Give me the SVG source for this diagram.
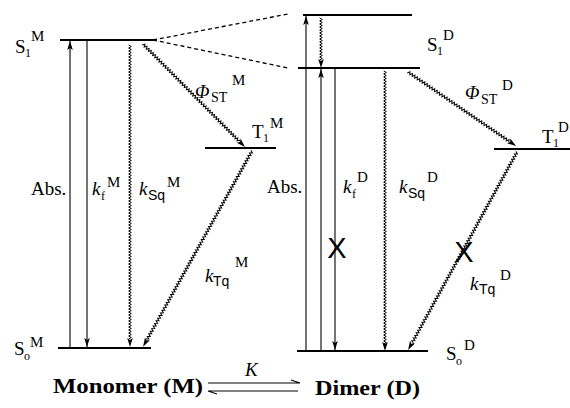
<svg xmlns="http://www.w3.org/2000/svg" xmlns:xlink="http://www.w3.org/1999/xlink" width="570" height="408" viewBox="0 0 570 408">
<style>
.lvl{stroke:#000;stroke-width:2;fill:none}
.ln{stroke:#000;stroke-width:1.1;fill:none}
.dash{stroke:#000;stroke-width:1.3;stroke-dasharray:4 3;fill:none}
.t{font-family:"Liberation Serif",serif;font-size:19px;fill:#000}
.i{font-style:italic}
.sup{font-size:15px}
.sub{font-size:12px}
.sst{font-size:14px}
.ss{font-family:"Liberation Sans",sans-serif;font-size:14px}
.x{font-family:"Liberation Sans",sans-serif;font-size:29px;fill:#000}
.b{font-family:"Liberation Serif",serif;font-weight:bold;font-size:20px;fill:#000}
</style>
<defs>
<path id="wz" fill="none" stroke="#000" stroke-width="1" d="M-1.3,0 l2.6,1.5 -2.6,1.5 2.6,1.5 -2.6,1.5 2.6,1.5 -2.6,1.5 2.6,1.5 -2.6,1.5 2.6,1.5 -2.6,1.5 2.6,1.5 -2.6,1.5 2.6,1.5 -2.6,1.5 2.6,1.5 -2.6,1.5 2.6,1.5 -2.6,1.5 2.6,1.5 -2.6,1.5 2.6,1.5 -2.6,1.5 2.6,1.5 -2.6,1.5 2.6,1.5 -2.6,1.5 2.6,1.5 -2.6,1.5 2.6,1.5 -2.6,1.5 2.6,1.5 -2.6,1.5 2.6,1.5 -2.6,1.5 2.6,1.5 -2.6,1.5 2.6,1.5 -2.6,1.5 2.6,1.5 -2.6,1.5 2.6,1.5 -2.6,1.5 2.6,1.5 -2.6,1.5 2.6,1.5 -2.6,1.5 2.6,1.5 -2.6,1.5 2.6,1.5 -2.6,1.5 2.6,1.5 -2.6,1.5 2.6,1.5 -2.6,1.5 2.6,1.5 -2.6,1.5 2.6,1.5 -2.6,1.5 2.6,1.5 -2.6,1.5 2.6,1.5 -2.6,1.5 2.6,1.5 -2.6,1.5 2.6,1.5 -2.6,1.5 2.6,1.5 -2.6,1.5 2.6,1.5 -2.6,1.5 2.6,1.5 -2.6,1.5 2.6,1.5 -2.6,1.5 2.6,1.5 -2.6,1.5 2.6,1.5 -2.6,1.5 2.6,1.5 -2.6,1.5 2.6,1.5 -2.6,1.5 2.6,1.5 -2.6,1.5 2.6,1.5 -2.6,1.5 2.6,1.5 -2.6,1.5 2.6,1.5 -2.6,1.5 2.6,1.5 -2.6,1.5 2.6,1.5 -2.6,1.5 2.6,1.5 -2.6,1.5 2.6,1.5 -2.6,1.5 2.6,1.5 -2.6,1.5 2.6,1.5 -2.6,1.5 2.6,1.5 -2.6,1.5 2.6,1.5 -2.6,1.5 2.6,1.5 -2.6,1.5 2.6,1.5 -2.6,1.5 2.6,1.5 -2.6,1.5 2.6,1.5 -2.6,1.5 2.6,1.5 -2.6,1.5 2.6,1.5 -2.6,1.5 2.6,1.5 -2.6,1.5 2.6,1.5 -2.6,1.5 2.6,1.5 -2.6,1.5 2.6,1.5 -2.6,1.5 2.6,1.5 -2.6,1.5 2.6,1.5 -2.6,1.5 2.6,1.5 -2.6,1.5 2.6,1.5 -2.6,1.5 2.6,1.5 -2.6,1.5 2.6,1.5 -2.6,1.5 2.6,1.5 -2.6,1.5 2.6,1.5 -2.6,1.5 2.6,1.5 -2.6,1.5 2.6,1.5 -2.6,1.5 2.6,1.5 -2.6,1.5 2.6,1.5 -2.6,1.5 2.6,1.5 -2.6,1.5 2.6,1.5 -2.6,1.5 2.6,1.5 -2.6,1.5 2.6,1.5 -2.6,1.5 2.6,1.5 -2.6,1.5 2.6,1.5 -2.6,1.5 2.6,1.5 -2.6,1.5 2.6,1.5 -2.6,1.5 2.6,1.5 -2.6,1.5 2.6,1.5 -2.6,1.5 2.6,1.5 -2.6,1.5 2.6,1.5 -2.6,1.5 2.6,1.5 -2.6,1.5 2.6,1.5 -2.6,1.5 2.6,1.5 -2.6,1.5 2.6,1.5 -2.6,1.5 2.6,1.5 -2.6,1.5 2.6,1.5 -2.6,1.5 2.6,1.5 -2.6,1.5 2.6,1.5 -2.6,1.5 2.6,1.5 -2.6,1.5 2.6,1.5 -2.6,1.5 2.6,1.5 -2.6,1.5 2.6,1.5 -2.6,1.5 2.6,1.5 -2.6,1.5 2.6,1.5 -2.6,1.5 2.6,1.5 -2.6,1.5 2.6,1.5 -2.6,1.5 2.6,1.5 -2.6,1.5 2.6,1.5 -2.6,1.5 2.6,1.5 -2.6,1.5 2.6,1.5 -2.6,1.5 2.6,1.5 -2.6,1.5 2.6,1.5 -2.6,1.5 2.6,1.5 -2.6,1.5 2.6,1.5 -2.6,1.5 2.6,1.5 -2.6,1.5 2.6,1.5 -2.6,1.5 2.6,1.5 -2.6,1.5 2.6,1.5 -2.6,1.5"/>
<path id="ah" d="M0,0 L-2.8,-9 L0,-7 L2.8,-9 Z" fill="#000"/>
<marker id="arr" viewBox="-10 -4 11 8" refX="0" refY="0" markerUnits="userSpaceOnUse" markerWidth="11" markerHeight="8" orient="auto">
<path d="M0,0 L-9,-2.8 L-7,0 L-9,2.8 Z" fill="#000"/>
</marker>
</defs>
<rect width="570" height="408" fill="#fff"/>

<g id="levels">
<g id="S1M"><line class="lvl" x1="60" y1="40" x2="153" y2="40"/></g>
<g id="T1M"><line class="lvl" x1="205" y1="148" x2="276" y2="148"/></g>
<g id="S0M"><line class="lvl" x1="58" y1="348" x2="151" y2="348"/></g>
<g id="S1Du"><line class="lvl" x1="303" y1="15" x2="412" y2="15"/></g>
<g id="S1D"><line class="lvl" x1="298" y1="68" x2="420" y2="68"/></g>
<g id="T1D"><line class="lvl" x1="494" y1="149" x2="570" y2="149"/></g>
<g id="S0D"><line class="lvl" x1="297" y1="351" x2="428" y2="351"/></g>
</g>

<g id="connectors">
<line class="dash" x1="153" y1="40" x2="288" y2="14"/>
<line class="dash" x1="153" y1="40" x2="288" y2="68"/>
<line class="ln" x1="70" y1="348" x2="70" y2="41" marker-end="url(#arr)"/>
<line class="ln" x1="87" y1="40" x2="87" y2="347" marker-end="url(#arr)"/>
<line class="ln" x1="306" y1="351" x2="306" y2="16" marker-end="url(#arr)"/>
<line class="ln" x1="321" y1="351" x2="321" y2="69" marker-end="url(#arr)"/>
<line class="ln" x1="335" y1="68" x2="335" y2="350" marker-end="url(#arr)"/>
<g transform="translate(130,45)"><use xlink:href="#wz" stroke-dasharray="588.3 2000"/><use xlink:href="#ah" y="302"/></g>
<g transform="translate(143,44) rotate(-44.7)"><use xlink:href="#wz" stroke-dasharray="274.2 2000"/><use xlink:href="#ah" y="145"/></g>
<g transform="translate(252,151) rotate(29.1)"><use xlink:href="#wz" stroke-dasharray="432.2 2000"/><use xlink:href="#ah" y="224"/></g>
<g transform="translate(321,18)"><use xlink:href="#wz" stroke-dasharray="84.1 2000"/><use xlink:href="#ah" y="50"/></g>
<g transform="translate(385,71)"><use xlink:href="#wz" stroke-dasharray="546.3 2000"/><use xlink:href="#ah" y="280"/></g>
<g transform="translate(408,72) rotate(-55.6)"><use xlink:href="#wz" stroke-dasharray="246.1 2000"/><use xlink:href="#ah" y="131"/></g>
<g transform="translate(517,152) rotate(28.8)"><use xlink:href="#wz" stroke-dasharray="436.2 2000"/><use xlink:href="#ah" y="226"/></g>
<g id="equilibrium">
<path class="ln" d="M208,383 H300 L291,380"/>
<path class="ln" d="M298,391 H208 L217,394"/>
</g>
</g>

<g id="labels">
<text class="t"><tspan x="15" y="53">S</tspan><tspan class="sub" x="25" y="57">1</tspan><tspan class="sup" x="31" y="41">M</tspan></text>
<text class="t"><tspan x="252" y="138">T</tspan><tspan class="sub" x="263" y="142">1</tspan><tspan class="sup" x="270" y="128">M</tspan></text>
<text class="t"><tspan class="i" x="195" y="98">Φ</tspan><tspan class="sst" x="211" y="102">ST</tspan><tspan class="sup" x="232" y="85">M</tspan></text>
<text class="t" x="31" y="195">Abs.</text>
<text class="t"><tspan class="i" x="92" y="195">k</tspan><tspan class="sub" x="101" y="200">f</tspan><tspan class="sup" x="107" y="187">M</tspan></text>
<text class="t"><tspan class="i" x="139" y="195">k</tspan><tspan class="ss" x="148" y="200">Sq</tspan><tspan class="sup" x="167" y="187">M</tspan></text>
<text class="t"><tspan class="i" x="205" y="282">k</tspan><tspan class="ss" x="213" y="286">Tq</tspan><tspan class="sup" x="235" y="267">M</tspan></text>
<text class="t"><tspan x="14" y="355">S</tspan><tspan class="sub" x="24" y="360">o</tspan><tspan class="sup" x="30" y="347">M</tspan></text>

<text class="t"><tspan x="427" y="51">S</tspan><tspan class="sub" x="437" y="55">1</tspan><tspan class="sup" x="443" y="40">D</tspan></text>
<text class="t"><tspan class="i" x="465" y="99">Φ</tspan><tspan class="sst" x="481" y="104">ST</tspan><tspan class="sup" x="502" y="90">D</tspan></text>
<text class="t"><tspan x="542" y="143">T</tspan><tspan class="sub" x="553" y="147">1</tspan><tspan class="sup" x="558" y="132">D</tspan></text>
<text class="t" x="267" y="193">Abs.</text>
<text class="t"><tspan class="i" x="343" y="193">k</tspan><tspan class="sub" x="352" y="198">f</tspan><tspan class="sup" x="357" y="182">D</tspan></text>
<text class="t"><tspan class="i" x="399" y="193">k</tspan><tspan class="ss" x="408" y="198">Sq</tspan><tspan class="sup" x="427" y="182">D</tspan></text>
<text class="t"><tspan class="i" x="470" y="290">k</tspan><tspan class="ss" x="479" y="294">Tq</tspan><tspan class="sup" x="500" y="280">D</tspan></text>
<text class="t"><tspan x="446" y="360">S</tspan><tspan class="sub" x="456" y="365">o</tspan><tspan class="sup" x="464" y="350">D</tspan></text>

<text class="x" x="337" y="258" text-anchor="middle">X</text>
<text class="x" x="464" y="262" text-anchor="middle">X</text>

<text class="b" x="53" y="393" textLength="150" lengthAdjust="spacingAndGlyphs">Monomer (M)</text>
<text class="t i" x="245" y="376" font-size="17">K</text>
<text class="b" x="315" y="395" textLength="105" lengthAdjust="spacingAndGlyphs">Dimer (D)</text>
</g>
</svg>
